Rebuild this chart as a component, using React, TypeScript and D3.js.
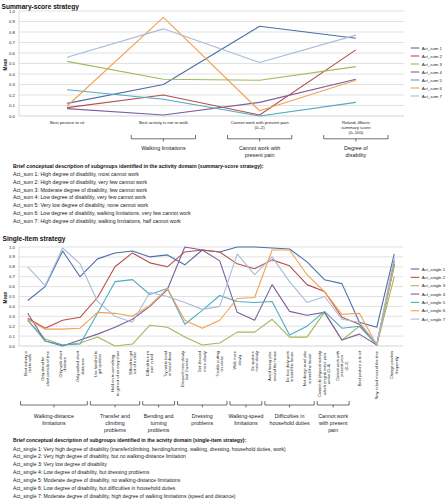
import React from "react";
import * as d3 from "d3";

// ---------- DATA ----------
const sumCategories = [
  ["Best posture to sit"],
  ["Best activity is not to walk"],
  ["Cannot work with present pain", "(0–2)"],
  ["Roland–Morris", "summary score", "(0–100)"],
];
const sumNames = ["Act_sum 1", "Act_sum 2", "Act_sum 3", "Act_sum 4", "Act_sum 5", "Act_sum 6", "Act_sum 7"];
const actSum1 = [0.12, 0.30, 0.855, 0.74];
const actSum2 = [0.08, 0.20, 0.01, 0.63];
const actSum3 = [0.52, 0.35, 0.34, 0.47];
const actSum4 = [0.07, 0.01, 0.13, 0.35];
const actSum5 = [0.25, 0.16, 0.0, 0.13];
const actSum6 = [0.095, 0.94, 0.05, 0.34];
const actSum7 = [0.56, 0.83, 0.51, 0.77];

const sumGroups = [
  { lines: ["Walking limitations"], cat: 1 },
  { lines: ["Cannot work with", "present pain"], cat: 2 },
  { lines: ["Degree of", "disability"], cat: 3 },
];

const sumDescTitle =
  "Brief conceptual description of subgroups identified in the activity domain (summary-score strategy):";
const sumDesc = [
  "Act_sum 1: High degree of disability, most cannot work",
  "Act_sum 2: High degree of disability, very few cannot work",
  "Act_sum 3: Moderate degree of disability, few cannot work",
  "Act_sum 4: Low degree of disability, very few cannot work",
  "Act_sum 5: Very low degree of disability, none cannot work",
  "Act_sum 6: Low degree of disability, walking limitations, very few cannot work",
  "Act_sum 7: High degree of disability, walking limitations, half cannot work",
];

const singleCategories = [
  ["Best activity is", "not to walk"],
  ["Only stand for", "short periods of time"],
  ["Only walk short", "distance"],
  ["Only walked short", "distances"],
  ["Use handrail to", "get upstairs"],
  ["Hold on to something", "to get out of an easy chair"],
  ["Difficult to get", "out of a chair"],
  ["Difficult to turn", "over in bed"],
  ["Try not to bend", "or kneel down"],
  ["Dressed more slowly", "last 2 weeks"],
  ["Get dressed", "more slowly"],
  ["Trouble putting", "on socks"],
  ["Walk more", "slowly"],
  ["Go upstairs", "more slowly"],
  ["Avoid heavy jobs", "around the house"],
  ["Do less daily work", "around the house"],
  ["Not doing usual jobs", "around the house"],
  ["Cannot do physical activity", "which (might) make pain", "worse (0–4)"],
  ["Cannot work with", "present pain", "(0–2)"],
  ["Best posture is to sit"],
  ["Stay in bed most of the time"],
  ["Change position", "frequently"],
];
const singleNames = ["Act_single 1", "Act_single 2", "Act_single 3", "Act_single 4", "Act_single 5", "Act_single 6", "Act_single 7"];
const actSingle1 = [0.46, 0.60, 0.96, 0.70, 0.88, 0.94, 0.96, 0.90, 0.92, 0.82, 0.97, 0.95, 1.0, 1.0, 0.99, 0.98, 0.85, 0.67, 0.63, 0.24, 0.19, 0.93];
const actSingle2 = [0.28, 0.18, 0.26, 0.29, 0.49, 0.80, 0.94, 0.84, 0.80, 0.95, 0.97, 0.95, 0.83, 0.78, 0.87, 0.81, 0.62, 0.55, 0.29, 0.22, 0.02, 0.83];
const actSingle3 = [0.26, 0.07, 0.01, 0.03, 0.09, 0.0, 0.02, 0.21, 0.19, 0.09, 0.01, 0.03, 0.14, 0.14, 0.27, 0.09, 0.09, 0.34, 0.06, 0.20, 0.01, 0.70];
const actSingle4 = [0.33, 0.05, 0.0, 0.06, 0.12, 0.19, 0.27, 0.40, 0.57, 1.0, 0.97, 0.86, 0.34, 0.26, 0.62, 0.35, 0.31, 0.34, 0.06, 0.12, 0.01, 0.86];
const actSingle5 = [0.26, 0.05, 0.01, 0.02, 0.33, 0.65, 0.67, 0.52, 0.58, 0.22, 0.36, 0.51, 0.45, 0.44, 0.45, 0.11, 0.20, 0.35, 0.18, 0.20, 0.02, 0.81];
const actSingle6 = [0.27, 0.17, 0.17, 0.18, 0.34, 0.33, 0.30, 0.41, 0.58, 0.26, 0.18, 0.26, 0.48, 0.49, 0.97, 0.97, 0.72, 0.55, 0.32, 0.33, 0.01, 0.82];
const actSingle7 = [0.80, 0.61, 0.99, 0.83, 0.45, 0.30, 0.24, 0.54, 0.50, 0.44, 0.37, 0.40, 0.93, 0.72, 0.90, 0.65, 0.44, 0.50, 0.27, 0.24, 0.02, 0.89];

const singleGroups = [
  { lines: ["Walking-distance", "limitations"], from: 0, to: 3 },
  { lines: ["Transfer and", "climbing", "problems"], from: 4, to: 6 },
  { lines: ["Bending and", "turning", "problems"], from: 7, to: 8 },
  { lines: ["Dressing", "problems"], from: 9, to: 11 },
  { lines: ["Walking-speed", "limitations"], from: 12, to: 13 },
  { lines: ["Difficulties in", "household duties"], from: 14, to: 16 },
  { lines: ["Cannot work", "with present", "pain"], from: 17, to: 18 },
];

const singleDescTitle =
  "Brief conceptual description of subgroups identified in the acivity domain (single-item strategy):";
const singleDesc = [
  "Act_single 1: Very high degree of disability (transfer/climbing, bending/turning, walking, dressing, household duties, work)",
  "Act_single 2: Very high degree of disability, but no walking-distance limitation",
  "Act_single 3: Very low degree of disability",
  "Act_single 4: Low degree of disability, but dressing problems",
  "Act_single 5: Moderate degree of disability, no walking-distance limitations",
  "Act_single 6: Low degree of disability, but difficulties in household duties",
  "Act_single 7: Moderate degree of disability, high degree of walking limitations (speed and distance)",
];

const yTicks = [0, 0.1, 0.2, 0.3, 0.4, 0.5, 0.6, 0.7, 0.8, 0.9, 1.0];
const colors = ["#4A70A8", "#B5504C", "#9DBB5C", "#7D5F9E", "#4FAAC4", "#F3A04F", "#A8BBD8"];

// ---------- STYLE ----------
const FONT = "'Liberation Sans', Arial, sans-serif";
const GRID = "#d9d9d9";
const TXT = "#222";

let _ctx: CanvasRenderingContext2D | null = null;
function textWidth(s: string, size: number) {
  if (!_ctx) {
    const c = document.createElement("canvas");
    _ctx = c.getContext("2d");
  }
  if (!_ctx) return s.length * size * 0.5;
  _ctx.font = `${size}px 'Liberation Sans', Arial, sans-serif`;
  return _ctx.measureText(s).width;
}

function YAxis({ y, x0, x1 }: { y: d3.ScaleLinear<number, number>; x0: number; x1: number }) {
  return (
    <g>
      {yTicks.map((t) => (
        <g key={t}>
          <line x1={x0} x2={x1} y1={y(t)} y2={y(t)} stroke={t === 0 ? "#c8c8c8" : GRID} strokeWidth={0.8} />
          <text x={x0 - 4} y={y(t) + 1.5} fontSize={4.3} textAnchor="end" fill={TXT} fontFamily={FONT}>
            {d3.format(".1f")(t)}
          </text>
        </g>
      ))}
      <line x1={x0} x2={x0} y1={y(1)} y2={y(0)} stroke="#d0d0d0" strokeWidth={0.8} />
    </g>
  );
}

function Legend({ names, x, y0, dy }: { names: string[]; x: number; y0: number; dy: number }) {
  return (
    <g>
      {names.map((n, i) => (
        <g key={n}>
          <line x1={x} x2={x + 8.6} y1={y0 + i * dy} y2={y0 + i * dy} stroke={colors[i]} strokeWidth={1.1} />
          <text x={x + 11} y={y0 + i * dy + 1.5} fontSize={4.3} fill={TXT} fontFamily={FONT}>
            {n}
          </text>
        </g>
      ))}
    </g>
  );
}

function Bracket({ x0, x1, yTop, yBar, yTip }: { x0: number; x1: number; yTop: number; yBar: number; yTip: number }) {
  const cx = (x0 + x1) / 2;
  return (
    <path
      d={`M${x0},${yTop} L${x0},${yBar} L${x1},${yBar} L${x1},${yTop} M${cx},${yBar} L${cx},${yTip}`}
      fill="none"
      stroke="#333"
      strokeWidth={0.7}
    />
  );
}

export default function App() {
  const W = 446;
  const H = 500;

  // Summary chart
  const sumSeries = [actSum1, actSum2, actSum3, actSum4, actSum5, actSum6, actSum7];
  const xs = d3.scaleBand<number>().domain(d3.range(sumCategories.length)).range([19, 404]);
  const ys = d3.scaleLinear().domain([0, 1]).range([116, 11]);
  const lineS = d3
    .line<number>()
    .x((_, i) => (xs(i) as number) + xs.bandwidth() / 2)
    .y((v) => ys(v));

  // Single chart
  const singleSeries = [actSingle1, actSingle2, actSingle3, actSingle4, actSingle5, actSingle6, actSingle7];
  const xi = d3.scaleBand<number>().domain(d3.range(singleCategories.length)).range([19, 403]);
  const yi = d3.scaleLinear().domain([0, 1]).range([346, 247]);
  const lineI = d3
    .line<number>()
    .x((_, i) => (xi(i) as number) + xi.bandwidth() / 2)
    .y((v) => yi(v));

  const lblFs = 3.9;
  const lblTop = 351;

  return (
    <svg
      width={W}
      height={H}
      viewBox={`0 0 ${W} ${H}`}
      style={{ position: "absolute", left: 0, top: 0, background: "#fff" }}
      fontFamily={FONT}
    >
      <rect width={W} height={H} fill="#fff" />
      {/* ---------- Summary ---------- */}
      <text x={1.5} y={8.5} fontSize={6.6} fontWeight="bold" fill="#111">
        Summary-score strategy
      </text>
      <YAxis y={ys} x0={19} x1={404} />
      <text transform={`translate(6.5,${ys(0.5) + 1}) rotate(-90)`} fontSize={4.6} fontWeight="bold" textAnchor="middle" fill={TXT}>
        Mean
      </text>
      {sumSeries.map((s, k) => (
        <path key={k} d={lineS(s) || ""} fill="none" stroke={colors[k]} strokeWidth={1.1} strokeLinejoin="round" />
      ))}
      {sumCategories.map((lines, i) =>
        lines.map((l, j) => (
          <text
            key={`${i}-${j}`}
            x={(xs(i) as number) + xs.bandwidth() / 2}
            y={123.5 + j * 5.4}
            fontSize={4.3}
            textAnchor="middle"
            fill={TXT}
          >
            {l}
          </text>
        ))
      )}
      {sumGroups.map((g, k) => {
        const x0 = (xs(g.cat) as number) + 16;
        const x1 = (xs(g.cat) as number) + xs.bandwidth() - 16;
        const cx = (x0 + x1) / 2;
        return (
          <g key={k}>
            <Bracket x0={x0} x1={x1} yTop={135} yBar={138.8} yTip={141.5} />
            {g.lines.map((l, j) => (
              <text key={j} x={cx} y={150 + j * 7} fontSize={5.4} textAnchor="middle" fill={TXT}>
                {l}
              </text>
            ))}
          </g>
        );
      })}
      <Legend names={sumNames} x={410.7} y0={48} dy={8} />
      <text x={13} y={167.8} fontSize={5.2} fontWeight="bold" fill="#111">
        {sumDescTitle}
      </text>
      {sumDesc.map((d, k) => (
        <text key={k} x={13} y={175.8 + k * 7.85} fontSize={5.2} fill={TXT}>
          {d}
        </text>
      ))}

      {/* ---------- Single ---------- */}
      <text x={2.5} y={241.3} fontSize={6.6} fontWeight="bold" fill="#111">
        Single-item strategy
      </text>
      <YAxis y={yi} x0={19} x1={403} />
      <text transform={`translate(6.5,${yi(0.5) + 1}) rotate(-90)`} fontSize={4.6} fontWeight="bold" textAnchor="middle" fill={TXT}>
        Mean
      </text>
      {singleSeries.map((s, k) => (
        <path key={k} d={lineI(s) || ""} fill="none" stroke={colors[k]} strokeWidth={1.1} strokeLinejoin="round" />
      ))}
      {singleCategories.map((lines, i) => {
        const cx = (xi(i) as number) + xi.bandwidth() / 2;
        const maxW = d3.max(lines, (l) => textWidth(l, lblFs)) || 0;
        const cy = lblTop + maxW / 2;
        const gap = 4.4;
        return (
          <g key={i}>
            {lines.map((l, j) => {
              const colX = cx + (j - (lines.length - 1) / 2) * gap + lblFs * 0.35;
              return (
                <text
                  key={j}
                  transform={`translate(${colX},${cy}) rotate(-90)`}
                  fontSize={lblFs}
                  textAnchor="middle"
                  fill={TXT}
                >
                  {l}
                </text>
              );
            })}
          </g>
        );
      })}
      {singleGroups.map((g, k) => {
        const x0 = (xi(g.from) as number) + 1.5;
        const x1 = (xi(g.to) as number) + xi.bandwidth() - 1.5;
        const cx = (x0 + x1) / 2;
        return (
          <g key={k}>
            <Bracket x0={x0} x1={x1} yTop={401} yBar={405} yTip={407.5} />
            {g.lines.map((l, j) => (
              <text key={j} x={cx} y={418 + j * 7} fontSize={5.3} textAnchor="middle" fill={TXT}>
                {l}
              </text>
            ))}
          </g>
        );
      })}
      <Legend names={singleNames} x={410.7} y0={269} dy={8.35} />
      <text x={13} y={441.8} fontSize={5.1} fontWeight="bold" fill="#111">
        {singleDescTitle}
      </text>
      {singleDesc.map((d, k) => (
        <text key={k} x={13} y={450.5 + k * 7.95} fontSize={5.1} fill={TXT}>
          {d}
        </text>
      ))}
    </svg>
  );
}
